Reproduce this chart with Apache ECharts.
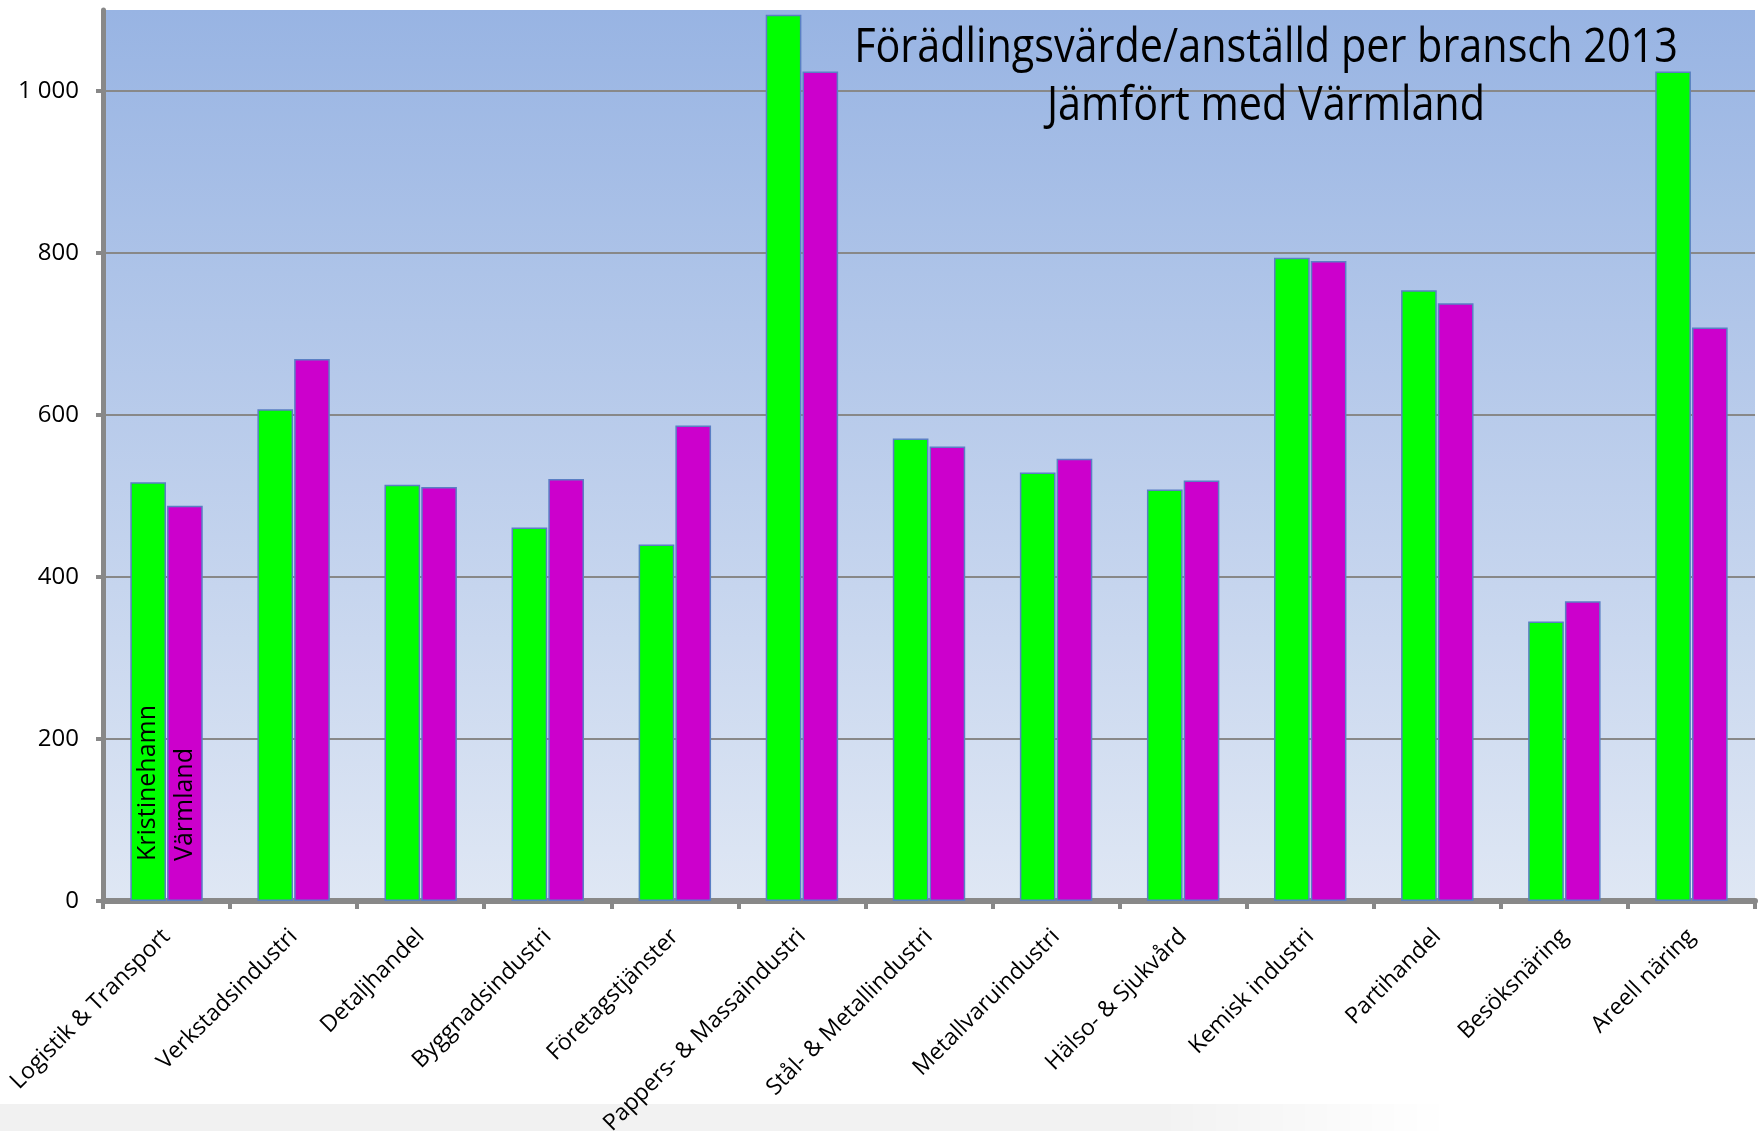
<!DOCTYPE html>
<html>
<head>
<meta charset="utf-8">
<script src="https://cdn.jsdelivr.net/npm/echarts@6/dist/echarts.min.js"></script>
<style>
html,body{margin:0;padding:0;background:#fff;}
#chart{width:1758px;height:1131px;}
</style>
</head>
<body>
<div id="chart"></div>
<script>
const categories = [
  'Logistik & Transport','Verkstadsindustri','Detaljhandel','Byggnadsindustri',
  'Företagstjänster','Pappers- & Massaindustri','Stål- & Metallindustri',
  'Metallvaruindustri','Hälso- & Sjukvård','Kemisk industri','Partihandel',
  'Besöksnäring','Areell näring'
];
const kristinehamn = [517, 607, 514, 461, 440, 1094, 571, 529, 508, 794, 754, 345, 1024];
const varmland     = [488, 669, 511, 521, 587, 1024, 561, 546, 519, 790, 738, 370, 708];
const yTicks = [0, 200, 400, 600, 800, 1000];
const titleLines = ['Förädlingsvärde/anställd per bransch 2013', 'Jämfört med Värmland'];
const seriesNames = ['Kristinehamn', 'Värmland'];

const chart = echarts.init(document.getElementById('chart'));
const fmt = v => String(v).replace(/\B(?=(\d{3})+(?!\d))/g, ' ');
const inBarLabel = {
  show: true, position: 'insideBottom', distance: 40, rotate: 90,
  align: 'left', verticalAlign: 'middle', color: '#000',
  fontFamily: 'Open Sans', fontSize: 25, formatter: p => p.seriesName
};
const mk = (arr) => arr.map((v, i) => i === 0 ? {value: v, label: inBarLabel} : v);
const titleFont = {fontFamily: 'Open Sans', fontSize: 47, fill: '#000', align: 'center', verticalAlign: 'middle'};

chart.setOption({
  animation: false,
  graphic: [
    {type: 'text', x: 1266, y: 49, scaleX: 0.88, z: 100, style: Object.assign({text: titleLines[0]}, titleFont)},
    {type: 'text', x: 1266, y: 107, scaleX: 0.88, z: 100, style: Object.assign({text: titleLines[1]}, titleFont)},
    {type: 'rect', shape: {x: 0, y: 1104, width: 1450, height: 27}, silent: true, z: -1,
     style: {fill: {type: 'linear', x: 0, y: 0, x2: 1, y2: 0,
       colorStops: [{offset: 0, color: 'rgba(0,0,0,0.055)'}, {offset: 0.8, color: 'rgba(0,0,0,0.05)'}, {offset: 1, color: 'rgba(0,0,0,0)'}]}}}
  ],
  grid: {
    left: 103, right: 3, top: 10, bottom: 230, show: true, borderWidth: 0,
    outerBoundsMode: 'none', containLabel: false,
    backgroundColor: {type: 'linear', x: 0, y: 0, x2: 0, y2: 1,
      colorStops: [{offset: 0, color: '#98b4e3'}, {offset: 1, color: '#dfe7f4'}]}
  },
  xAxis: {
    type: 'category', data: categories,
    axisLine: {lineStyle: {color: '#888', width: 6}},
    axisTick: {show: true, interval: 0, length: 8, lineStyle: {color: '#888', width: 4}},
    axisLabel: {interval: 0, rotate: 45, margin: 32, color: '#000', fontFamily: 'Open Sans', fontSize: 23}
  },
  yAxis: {
    type: 'value', min: 0, max: 1100, interval: 200,
    axisLine: {show: true, lineStyle: {color: '#888', width: 5}},
    axisTick: {show: true, length: 7, customValues: yTicks, lineStyle: {color: '#888', width: 4}},
    axisLabel: {customValues: yTicks, margin: 24, color: '#000', fontFamily: 'Open Sans', fontSize: 24, formatter: fmt},
    splitLine: {show: true, lineStyle: {color: ['#888','#888','#888','#888','#888','#888','rgba(0,0,0,0)'], width: 2}}
  },
  series: [
    {name: seriesNames[0], type: 'bar', data: mk(kristinehamn), barCategoryGap: '43%', barGap: '3%',
     itemStyle: {color: '#00ff00', borderColor: '#5a7fc4', borderWidth: 1.5}},
    {name: seriesNames[1], type: 'bar', data: mk(varmland),
     itemStyle: {color: '#cc00cc', borderColor: '#5a7fc4', borderWidth: 1.5}}
  ]
});
</script>
</body>
</html>
